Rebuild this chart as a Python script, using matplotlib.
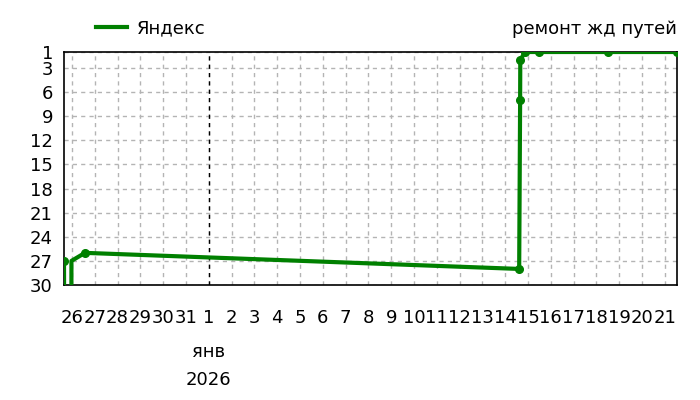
import numpy as np
import pandas as pd
import matplotlib
matplotlib.use("Agg")
import matplotlib.pyplot as plt
import matplotlib.dates as mdates
from matplotlib.lines import Line2D

# positions in Yandex search results over time
times = pd.to_datetime([
    "2025-12-25 15:40", "2025-12-25 17:15", "2025-12-25 22:30",
    "2025-12-25 23:30", "2025-12-26 13:45", "2026-01-14 14:40",
    "2026-01-14 15:40", "2026-01-14 15:50", "2026-01-14 20:50",
    "2026-01-15 11:45", "2026-01-18 12:15", "2026-01-21 12:45",
])
positions = [27, 99, 99, 27, 26, 28, 7, 2, 1, 1, 1, 1]
marked = [True, False, False, False, True, True, True, True, True, True, True, True]

series_name = "Яндекс"
title = "ремонт жд путей"
y_ticks = [1, 3, 6, 9, 12, 15, 18, 21, 24, 27, 30]
day_ticks = pd.date_range("2025-12-26", "2026-01-21", freq="D")
month_label = "янв"
year_label = "2026"

green = "#008000"
plt.rcParams['font.family'] = ['DejaVu Sans']
fs = 13

fig = plt.figure(figsize=(7, 4), dpi=100)
ax = fig.add_axes([64/700, 1 - 285/400, (677 - 64)/700, (285 - 52)/400])

ax.plot(times, positions, color=green, lw=3, solid_joinstyle='round', zorder=3)
mt = [t for t, m in zip(times, marked) if m]
mp = [p for p, m in zip(positions, marked) if m]
ax.plot(mt, mp, 'o', color=green, ms=5.5, zorder=4)

ax.set_ylim(30, 1)
ax.set_yticks(y_ticks)
ax.set_xlim(times[0], times[-1])
ax.set_xticks(day_ticks)
ax.set_xticklabels([str(d.day) for d in day_ticks])
ax.tick_params(axis='both', length=0, labelsize=fs)
ax.tick_params(axis='x', pad=17)
ax.tick_params(axis='y', pad=8)

ax.grid(True, color='#b4b4b4', linestyle=(0, (3, 3)), lw=1)
ax.set_axisbelow(True)
ax.axvline(pd.Timestamp("2026-01-01"), color='black', linestyle=(0, (3, 3)), lw=1, zorder=2)
for s in ax.spines.values():
    s.set_color('black')
    s.set_linewidth(1.2)

jan1 = mdates.date2num(pd.Timestamp("2026-01-01"))
x_fig = fig.transFigure.inverted().transform(ax.transData.transform((jan1, 1)))[0]
fig.text(x_fig, 1 - 352/400, month_label, ha='center', va='center', fontsize=fs)
fig.text(x_fig, 1 - 380/400, year_label, ha='center', va='center', fontsize=fs)

ax.set_title(title, loc='right', fontsize=fs, pad=13)

handle = Line2D([], [], color=green, lw=3)
fig.legend([handle], [series_name], loc='center left', bbox_to_anchor=(96/700, 1 - 28/400),
           frameon=False, fontsize=fs, handlelength=1.7, handletextpad=0.55,
           borderpad=0, borderaxespad=0)

fig.savefig("out.png", dpi=100)
